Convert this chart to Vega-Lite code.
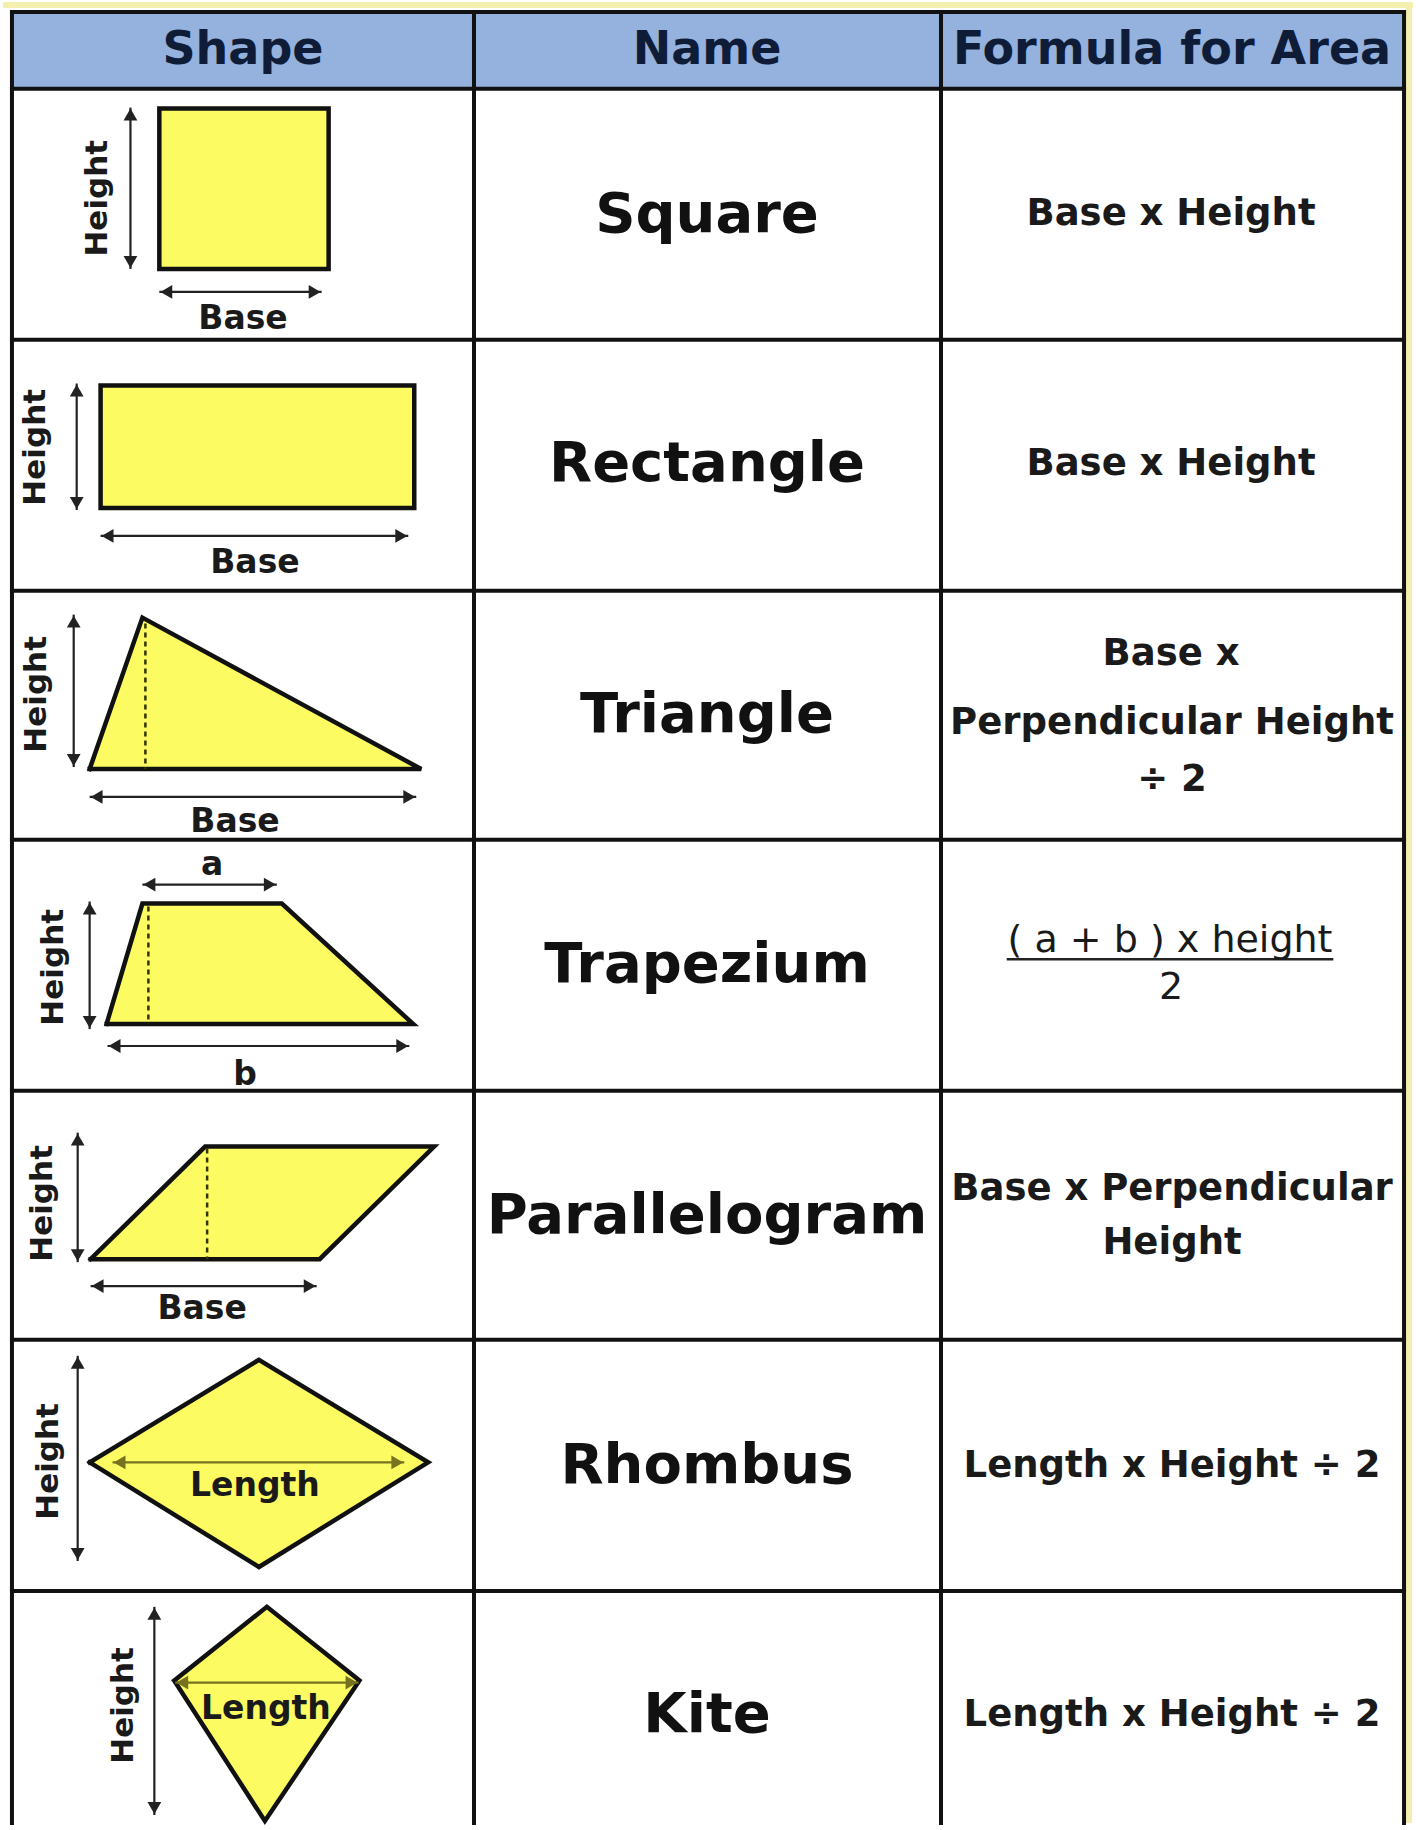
{
  "$schema": "https://vega.github.io/schema/vega-lite/v6.json",
  "width": 1416,
  "height": 1830,
  "padding": 0,
  "autosize": {"type": "fit", "contains": "padding"},
  "background": "white",
  "config": {"view": {"stroke": null}},
  "datasets": {
    "header": [{"x": 9, "x2": 1407, "y": 12, "y2": 89}],
    "tint": [
      {"x": 0, "x2": 1416, "y": 5, "y2": 5},
      {"x": 1412, "x2": 1412, "y": 5, "y2": 1830}
    ],
    "grid": [
      {"x": 9, "x2": 1407, "y": 12, "y2": 12},
      {"x": 9, "x2": 1407, "y": 89, "y2": 89},
      {"x": 9, "x2": 1407, "y": 341, "y2": 341},
      {"x": 9, "x2": 1407, "y": 593, "y2": 593},
      {"x": 9, "x2": 1407, "y": 843, "y2": 843},
      {"x": 9, "x2": 1407, "y": 1095, "y2": 1095},
      {"x": 9, "x2": 1407, "y": 1345, "y2": 1345},
      {"x": 9, "x2": 1407, "y": 1597, "y2": 1597},
      {"x": 9, "x2": 9, "y": 12, "y2": 1830},
      {"x": 473, "x2": 473, "y": 12, "y2": 1830},
      {"x": 942, "x2": 942, "y": 12, "y2": 1830},
      {"x": 1407, "x2": 1407, "y": 12, "y2": 1830}
    ],
    "shapes": [
      {"shape": "Square", "i": 0, "x": 157, "y": 109},
      {"shape": "Square", "i": 1, "x": 327, "y": 109},
      {"shape": "Square", "i": 2, "x": 327, "y": 270},
      {"shape": "Square", "i": 3, "x": 157, "y": 270},
      {"shape": "Square", "i": 4, "x": 157, "y": 109},
      {"shape": "Rectangle", "i": 0, "x": 98, "y": 387},
      {"shape": "Rectangle", "i": 1, "x": 413, "y": 387},
      {"shape": "Rectangle", "i": 2, "x": 413, "y": 510},
      {"shape": "Rectangle", "i": 3, "x": 98, "y": 510},
      {"shape": "Rectangle", "i": 4, "x": 98, "y": 387},
      {"shape": "Triangle", "i": 0, "x": 87, "y": 772},
      {"shape": "Triangle", "i": 1, "x": 140, "y": 620},
      {"shape": "Triangle", "i": 2, "x": 420, "y": 772},
      {"shape": "Triangle", "i": 3, "x": 87, "y": 772},
      {"shape": "Trapezium", "i": 0, "x": 104, "y": 1028},
      {"shape": "Trapezium", "i": 1, "x": 140, "y": 907},
      {"shape": "Trapezium", "i": 2, "x": 280, "y": 907},
      {"shape": "Trapezium", "i": 3, "x": 412, "y": 1028},
      {"shape": "Trapezium", "i": 4, "x": 104, "y": 1028},
      {"shape": "Parallelogram", "i": 0, "x": 88, "y": 1264},
      {"shape": "Parallelogram", "i": 1, "x": 203, "y": 1151},
      {"shape": "Parallelogram", "i": 2, "x": 433, "y": 1151},
      {"shape": "Parallelogram", "i": 3, "x": 318, "y": 1264},
      {"shape": "Parallelogram", "i": 4, "x": 88, "y": 1264},
      {"shape": "Rhombus", "i": 0, "x": 87, "y": 1468},
      {"shape": "Rhombus", "i": 1, "x": 257, "y": 1365},
      {"shape": "Rhombus", "i": 2, "x": 427, "y": 1468},
      {"shape": "Rhombus", "i": 3, "x": 257, "y": 1573},
      {"shape": "Rhombus", "i": 4, "x": 87, "y": 1468},
      {"shape": "Kite", "i": 0, "x": 172, "y": 1687},
      {"shape": "Kite", "i": 1, "x": 265, "y": 1613},
      {"shape": "Kite", "i": 2, "x": 358, "y": 1687},
      {"shape": "Kite", "i": 3, "x": 263, "y": 1828},
      {"shape": "Kite", "i": 4, "x": 172, "y": 1687}
    ],
    "dashes": [
      {"shape": "Triangle", "x": 143, "y": 626, "x2": 143, "y2": 772},
      {"shape": "Trapezium", "x": 146, "y": 910, "x2": 146, "y2": 1028},
      {"shape": "Parallelogram", "x": 205, "y": 1153, "x2": 205, "y2": 1264}
    ],
    "shafts": [
      {"shape": "Square", "dim": "Height", "x": 128, "y": 108, "x2": 128, "y2": 270},
      {"shape": "Square", "dim": "Base", "x": 157, "y": 293, "x2": 320, "y2": 293},
      {"shape": "Rectangle", "dim": "Height", "x": 74, "y": 385, "x2": 74, "y2": 512},
      {"shape": "Rectangle", "dim": "Base", "x": 98, "y": 538, "x2": 407, "y2": 538},
      {"shape": "Triangle", "dim": "Height", "x": 71, "y": 617, "x2": 71, "y2": 770},
      {"shape": "Triangle", "dim": "Base", "x": 87, "y": 800, "x2": 415, "y2": 800},
      {"shape": "Trapezium", "dim": "Height", "x": 87, "y": 905, "x2": 87, "y2": 1033},
      {"shape": "Trapezium", "dim": "a", "x": 140, "y": 888, "x2": 275, "y2": 888},
      {"shape": "Trapezium", "dim": "b", "x": 105, "y": 1050, "x2": 408, "y2": 1050},
      {"shape": "Parallelogram", "dim": "Height", "x": 75, "y": 1137, "x2": 75, "y2": 1267},
      {"shape": "Parallelogram", "dim": "Base", "x": 88, "y": 1291, "x2": 315, "y2": 1291},
      {"shape": "Rhombus", "dim": "Height", "x": 75, "y": 1361, "x2": 75, "y2": 1567},
      {"shape": "Rhombus", "dim": "Length", "x": 110, "y": 1468, "x2": 403, "y2": 1468},
      {"shape": "Kite", "dim": "Height", "x": 152, "y": 1613, "x2": 152, "y2": 1822},
      {"shape": "Kite", "dim": "Length", "x": 173, "y": 1689, "x2": 357, "y2": 1689}
    ],
    "heads": [
      {"dim": "Height", "dir": "up", "x": 128, "y": 115},
      {"dim": "Height", "dir": "down", "x": 128, "y": 263},
      {"dim": "Base", "dir": "left", "x": 164, "y": 293},
      {"dim": "Base", "dir": "right", "x": 313, "y": 293},
      {"dim": "Height", "dir": "up", "x": 74, "y": 392},
      {"dim": "Height", "dir": "down", "x": 74, "y": 505},
      {"dim": "Base", "dir": "left", "x": 105, "y": 538},
      {"dim": "Base", "dir": "right", "x": 400, "y": 538},
      {"dim": "Height", "dir": "up", "x": 71, "y": 624},
      {"dim": "Height", "dir": "down", "x": 71, "y": 763},
      {"dim": "Base", "dir": "left", "x": 94, "y": 800},
      {"dim": "Base", "dir": "right", "x": 408, "y": 800},
      {"dim": "Height", "dir": "up", "x": 87, "y": 912},
      {"dim": "Height", "dir": "down", "x": 87, "y": 1026},
      {"dim": "a", "dir": "left", "x": 147, "y": 888},
      {"dim": "a", "dir": "right", "x": 268, "y": 888},
      {"dim": "b", "dir": "left", "x": 112, "y": 1050},
      {"dim": "b", "dir": "right", "x": 401, "y": 1050},
      {"dim": "Height", "dir": "up", "x": 75, "y": 1144},
      {"dim": "Height", "dir": "down", "x": 75, "y": 1260},
      {"dim": "Base", "dir": "left", "x": 95, "y": 1291},
      {"dim": "Base", "dir": "right", "x": 308, "y": 1291},
      {"dim": "Height", "dir": "up", "x": 75, "y": 1368},
      {"dim": "Height", "dir": "down", "x": 75, "y": 1560},
      {"dim": "Length", "dir": "left", "x": 117, "y": 1468},
      {"dim": "Length", "dir": "right", "x": 396, "y": 1468},
      {"dim": "Height", "dir": "up", "x": 152, "y": 1620},
      {"dim": "Height", "dir": "down", "x": 152, "y": 1815},
      {"dim": "Length", "dir": "left", "x": 180, "y": 1689},
      {"dim": "Length", "dir": "right", "x": 350, "y": 1689}
    ],
    "underline": [{"x": 1008, "x2": 1336, "y": 963, "y2": 963}],
    "texts": [
      {"kind": "header", "text": "Shape", "x": 241, "y": 50},
      {"kind": "header", "text": "Name", "x": 707, "y": 50},
      {"kind": "header", "text": "Formula for Area", "x": 1174, "y": 50},
      {"kind": "name", "text": "Square", "x": 707, "y": 216},
      {"kind": "name", "text": "Rectangle", "x": 707, "y": 466},
      {"kind": "name", "text": "Triangle", "x": 707, "y": 718},
      {"kind": "name", "text": "Trapezium", "x": 707, "y": 969},
      {"kind": "name", "text": "Parallelogram", "x": 707, "y": 1221},
      {"kind": "name", "text": "Rhombus", "x": 707, "y": 1472},
      {"kind": "name", "text": "Kite", "x": 707, "y": 1722},
      {"kind": "formula", "text": "Base x Height", "x": 1173, "y": 215},
      {"kind": "formula", "text": "Base x Height", "x": 1173, "y": 466},
      {"kind": "formula", "text": "Base x", "x": 1173, "y": 657},
      {"kind": "formula", "text": "Perpendicular Height", "x": 1174, "y": 726},
      {"kind": "formula", "text": "÷ 2", "x": 1174, "y": 783},
      {"kind": "fraction", "text": "( a + b ) x height", "x": 1172, "y": 945},
      {"kind": "fraction", "text": "2", "x": 1173, "y": 992},
      {"kind": "formula", "text": "Base x Perpendicular", "x": 1174, "y": 1194},
      {"kind": "formula", "text": "Height", "x": 1174, "y": 1248},
      {"kind": "formula", "text": "Length x Height ÷ 2", "x": 1174, "y": 1472},
      {"kind": "formula", "text": "Length x Height ÷ 2", "x": 1174, "y": 1722},
      {"kind": "label", "text": "Base", "x": 241, "y": 320},
      {"kind": "label", "text": "Base", "x": 253, "y": 565},
      {"kind": "label", "text": "Base", "x": 233, "y": 825},
      {"kind": "label", "text": "a", "x": 210, "y": 868},
      {"kind": "label", "text": "b", "x": 243, "y": 1079},
      {"kind": "label", "text": "Base", "x": 200, "y": 1314},
      {"kind": "label", "text": "Length", "x": 253, "y": 1492},
      {"kind": "label", "text": "Length", "x": 264, "y": 1716},
      {"kind": "vlabel", "text": "Height", "x": 95, "y": 199},
      {"kind": "vlabel", "text": "Height", "x": 33, "y": 449},
      {"kind": "vlabel", "text": "Height", "x": 34, "y": 697},
      {"kind": "vlabel", "text": "Height", "x": 51, "y": 971},
      {"kind": "vlabel", "text": "Height", "x": 40, "y": 1208},
      {"kind": "vlabel", "text": "Height", "x": 46, "y": 1467},
      {"kind": "vlabel", "text": "Height", "x": 122, "y": 1712}
    ]
  },
  "encoding": {
    "x": {"field": "x", "type": "quantitative", "axis": null, "scale": {"domain": [0, 1416], "nice": false, "zero": false}},
    "y": {"field": "y", "type": "quantitative", "axis": null, "scale": {"domain": [0, 1830], "nice": false, "zero": false, "reverse": true}}
  },
  "layer": [
    {
      "data": {"name": "tint"},
      "mark": {"type": "rule", "color": "#f3efae", "strokeWidth": 6},
      "encoding": {"x2": {"field": "x2"}, "y2": {"field": "y2"}}
    },
    {
      "data": {"name": "header"},
      "mark": {"type": "rect", "fill": "#95b1dd", "stroke": null},
      "encoding": {"x2": {"field": "x2"}, "y2": {"field": "y2"}}
    },
    {
      "data": {"name": "shapes"},
      "mark": {"type": "line", "fill": "#fcfc62", "stroke": "#111111", "strokeWidth": 4.5, "strokeJoin": "miter", "strokeCap": "square"},
      "encoding": {
        "detail": {"field": "shape"},
        "order": {"field": "i", "type": "quantitative"}
      }
    },
    {
      "data": {"name": "dashes"},
      "mark": {"type": "rule", "color": "#333300", "strokeWidth": 2.5, "strokeDash": [5, 4]},
      "encoding": {"x2": {"field": "x2"}, "y2": {"field": "y2"}}
    },
    {
      "data": {"name": "shafts"},
      "mark": {"type": "rule", "strokeWidth": 2.2},
      "encoding": {
        "x2": {"field": "x2"},
        "y2": {"field": "y2"},
        "color": {"field": "dim", "type": "nominal", "legend": null, "scale": {"domain": ["Height", "Base", "a", "b", "Length"], "range": ["#222222", "#222222", "#222222", "#222222", "#77721f"]}}
      }
    },
    {
      "data": {"name": "heads"},
      "mark": {"type": "point", "filled": true, "size": 190, "opacity": 1},
      "encoding": {
        "shape": {"field": "dir", "type": "nominal", "legend": null, "scale": {"domain": ["up", "down", "left", "right"], "range": ["triangle-up", "triangle-down", "triangle-left", "triangle-right"]}},
        "color": {"field": "dim", "type": "nominal", "legend": null, "scale": {"domain": ["Height", "Base", "a", "b", "Length"], "range": ["#222222", "#222222", "#222222", "#222222", "#3a3710"]}}
      }
    },
    {
      "data": {"name": "underline"},
      "mark": {"type": "rule", "color": "#222222", "strokeWidth": 2.5},
      "encoding": {"x2": {"field": "x2"}, "y2": {"field": "y2"}}
    },
    {
      "data": {"name": "grid"},
      "mark": {"type": "rule", "color": "#111111", "strokeWidth": 4, "strokeCap": "square"},
      "encoding": {"x2": {"field": "x2"}, "y2": {"field": "y2"}}
    },
    {
      "data": {"name": "texts"},
      "transform": [{"filter": "datum.kind === 'header'"}],
      "mark": {"type": "text", "font": "DejaVu Sans", "fontWeight": "bold", "fontSize": 46, "color": "#0f1c38", "align": "center", "baseline": "middle"},
      "encoding": {"text": {"field": "text"}}
    },
    {
      "data": {"name": "texts"},
      "transform": [{"filter": "datum.kind === 'name'"}],
      "mark": {"type": "text", "font": "DejaVu Sans", "fontWeight": "bold", "fontSize": 56, "color": "#111111", "align": "center", "baseline": "middle"},
      "encoding": {"text": {"field": "text"}}
    },
    {
      "data": {"name": "texts"},
      "transform": [{"filter": "datum.kind === 'formula'"}],
      "mark": {"type": "text", "font": "DejaVu Sans", "fontWeight": "bold", "fontSize": 37, "color": "#1a1a1a", "align": "center", "baseline": "middle"},
      "encoding": {"text": {"field": "text"}}
    },
    {
      "data": {"name": "texts"},
      "transform": [{"filter": "datum.kind === 'fraction'"}],
      "mark": {"type": "text", "font": "DejaVu Sans", "fontWeight": "normal", "fontSize": 38, "color": "#1a1a1a", "align": "center", "baseline": "middle"},
      "encoding": {"text": {"field": "text"}}
    },
    {
      "data": {"name": "texts"},
      "transform": [{"filter": "datum.kind === 'label'"}],
      "mark": {"type": "text", "font": "DejaVu Sans", "fontWeight": "bold", "fontSize": 33, "color": "#1a1a1a", "align": "center", "baseline": "middle"},
      "encoding": {"text": {"field": "text"}}
    },
    {
      "data": {"name": "texts"},
      "transform": [{"filter": "datum.kind === 'vlabel'"}],
      "mark": {"type": "text", "font": "DejaVu Sans", "fontWeight": "bold", "fontSize": 31, "color": "#1a1a1a", "align": "center", "baseline": "middle", "angle": 270},
      "encoding": {"text": {"field": "text"}}
    }
  ]
}
